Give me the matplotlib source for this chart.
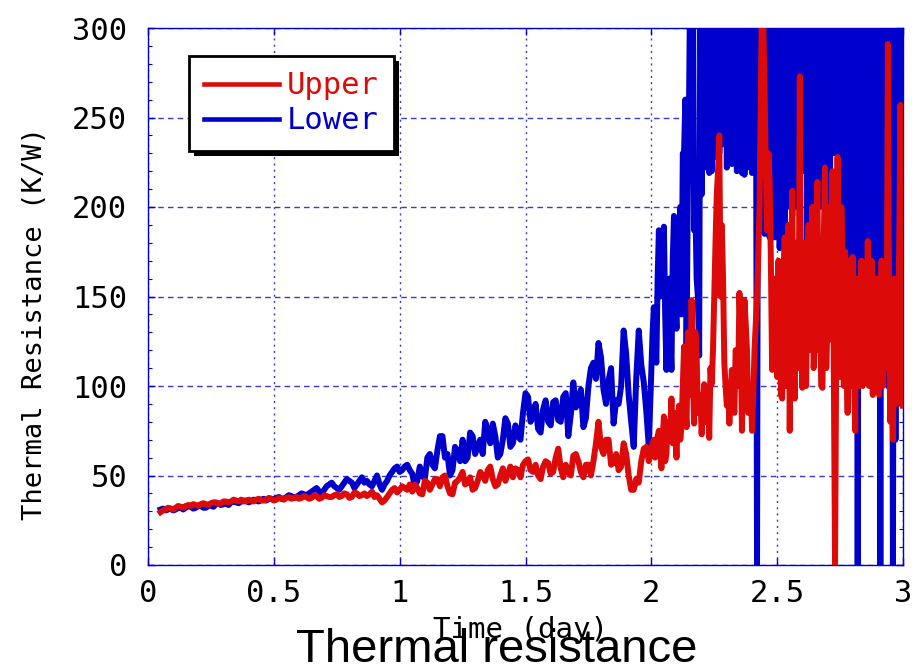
import numpy as np
import matplotlib
matplotlib.use("Agg")
import matplotlib.pyplot as plt
from matplotlib.patches import Rectangle
from matplotlib.lines import Line2D

# ---------------- data ----------------
# early part: 0.05 .. 1.99 day; "main" samples every 0.02 day, "between" samples halfway
upper_early_main = [29.5, 31, 31.5, 32, 32.5, 33, 33, 33.5, 34, 34, 34.5, 35, 34.5, 35.5, 35.5, 36,
                    36.5, 35.5, 36, 36.5, 36, 36.5, 37, 36.5, 37, 37.5, 37, 38, 37.5, 38, 37.5, 38.5,
                    37.5, 38.5, 38, 39.5, 38.5, 39.5, 38, 40, 39, 38.5, 41, 39, 35, 38, 42, 40.5,
                    44, 42, 41, 43, 39.5, 46, 45, 48, 49, 44, 39.5, 47, 52, 46, 42, 47,
                    50, 53, 48, 45, 54, 51, 49, 53, 56, 59, 52, 50, 55, 57, 52, 65,
                    49, 52, 61, 58, 49, 56, 58, 80, 62, 70, 57, 53, 68, 50, 42, 46,
                    65, 58]
upper_early_between = [30.5, 32, 31, 33, 32, 33.5, 34, 33, 34.5, 33.5,
                       35, 34, 35.5, 35, 36.5, 35.5, 35.5, 36.5, 35.5, 37,
                       36, 37.5, 36, 37.5, 36.5, 38, 37.5, 37, 38.5, 37,
                       39, 37, 39, 38, 39, 38, 40, 37.5, 40.5, 38.5,
                       40, 39.5, 38, 37, 36, 40, 43, 42, 43, 45,
                       45, 40, 47, 42, 48, 44, 50, 40, 46, 49,
                       45, 49, 43, 52, 47, 55, 44, 50, 47, 55,
                       54, 49, 58, 53, 56, 48, 58, 51, 60, 54,
                       56, 50, 62, 52, 56, 50, 68, 66, 70, 56,
                       62, 55, 62, 42, 48, 58, 66]
lower_early_main = [31, 30.5, 31.5, 31, 32, 32, 32.5, 32, 33, 32, 33.5, 34, 33.5, 34.5, 35, 35,
                    35.5, 36, 35.5, 36, 36.5, 36, 37, 37.5, 37, 38, 38.5, 38, 40, 39, 41, 43,
                    40, 44, 46, 43, 44, 48, 46, 45, 49, 47, 44, 50, 42, 47, 52, 55,
                    53, 56, 51, 47, 50, 60, 56, 64, 72, 62, 53, 63, 70, 60, 72, 66,
                    62, 75, 79, 60, 70, 79, 68, 72, 85, 94, 83, 76, 87, 80, 91, 81,
                    94, 72, 102, 92, 77, 100, 113, 124, 98, 103, 79, 90, 131, 95, 66, 131,
                    102, 66]
lower_early_between = [31.5, 31, 30.5, 32, 31, 33, 31.5, 33, 32, 33,
                       32.5, 34.5, 34, 33.5, 35.5, 34.5, 36, 35, 36.5, 35.5,
                       37, 37, 36.5, 38, 37, 39, 37.5, 39, 39.5, 40,
                       42, 41, 42, 45, 44, 42, 46, 47, 43, 47,
                       46, 45, 47, 45, 45, 50, 54, 52, 55, 53,
                       44, 55, 48, 62, 54, 72, 60, 50, 66, 58,
                       58, 74, 62, 70, 80, 68, 72, 62, 82, 66,
                       78, 70, 96, 80, 90, 74, 92, 78, 92, 80,
                       96, 84, 88, 98, 82, 110, 104, 116, 90, 110,
                       92, 100, 118, 80, 104, 112, 86]
# late part: 2.00 .. 3.00 day; "main" every 0.01 day, "between" halfway (values >300 run off the top)
upper_late_main = [64, 70, 66, 75, 54, 83, 62, 70, 93, 85, 60, 89, 78, 122, 77, 109,
                   148, 79, 117, 89, 73, 101, 85, 71, 101, 150, 207, 240, 190, 113, 89, 79,
                   109, 85, 117, 152, 75, 148, 120, 95, 75, 120, 148, 200, 320, 265, 187, 214,
                   109, 160, 105, 140, 93, 183, 110, 75, 209, 93, 150, 273, 99, 130, 158, 120,
                   200, 125, 214, 150, 99, 222, 140, 126, 220, 0, 228, 105, 160, 175, 85, 130,
                   172, 75, 120, 136, 100, 154, 181, 120, 95, 156, 111, 140, 100, 120, 291, 80,
                   70, 110, 128, 257, 89]
upper_late_between = [68, 60, 72, 64, 70, 58, 80, 76, 68, 74,
                      82, 70, 100, 90, 130, 95, 105, 130, 85, 95,
                      88, 80, 95, 110, 120, 180, 220, 150, 160, 100,
                      100, 95, 92, 120, 100, 130, 110, 135, 85, 100,
                      95, 135, 175, 260, 300, 220, 230, 170, 130, 140,
                      170, 95, 160, 100, 190, 160, 110, 180, 110, 150,
                      180, 100, 190, 170, 110, 190, 120, 100, 180, 110,
                      200, 170, 110, 130, 120, 200, 100, 120, 170, 100,
                      110, 160, 100, 170, 130, 110, 100, 170, 130, 160,
                      95, 170, 140, 110, 120, 150, 160, 90, 180, 110]
lower_late_main = [109, 144, 113, 187, 160, 189, 109, 160, 109, 195,
                   132, 179, 140, 230, 118, 261, 320, 187, 160, 117,
                   207, 228, 222, 219, 220, 228, 228, 230, 241, 235,
                   222, 230, 224, 235, 220, 225, 219, 218, 222, 240,
                   219, 230, 0, 244, 200, 185, 240, 183, 195, 183,
                   195, 177, 190, 177, 228, 200, 195, 210, 200, 195,
                   220, 240, 154, 160, 203, 210, 203, 200, 203, 210,
                   205, 203, 246, 230, 246, 180, 200, 181, 154, 160,
                   154, 160, 0, 150, 154, 148, 150, 148, 171, 128,
                   171, 0, 150, 120, 100, 95, 0, 70, 90, 110,
                   120]
lower_late_between = [130, 120, 160, 150, 175, 140, 135, 130, 170, 150,
                      180, 200, 230, 260, 210, 340, 340, 200, 150, 340,
                      345, 335, 350, 340, 355, 330, 345, 340, 350, 335,
                      340, 350, 345, 335, 355, 340, 330, 345, 350, 340,
                      335, 345, 350, 340, 330, 355, 345, 340, 335, 350,
                      340, 345, 330, 355, 340, 350, 335, 345, 340, 330,
                      350, 340, 345, 335, 355, 340, 330, 345, 350, 340,
                      335, 345, 350, 340, 330, 355, 345, 340, 335, 350,
                      340, 345, 330, 355, 340, 350, 335, 345, 340, 330,
                      350, 340, 345, 335, 355, 340, 330, 345, 350, 340]

x_ticks = [0, 0.5, 1, 1.5, 2, 2.5, 3]
x_ticklabels = ["0", "0.5", "1", "1.5", "2", "2.5", "3"]
y_ticks = [0, 50, 100, 150, 200, 250, 300]
series_names = ["Upper", "Lower"]


def merge(main, between):
    out = np.empty(len(main) + len(between))
    out[0::2] = main
    out[1::2] = between
    return out


upper = np.concatenate([merge(upper_early_main, upper_early_between),
                        merge(upper_late_main, upper_late_between)])
lower = np.concatenate([merge(lower_early_main, lower_early_between),
                        merge(lower_late_main, lower_late_between)])
n_early = len(upper_early_main) + len(upper_early_between)
n_late = len(upper_late_main) + len(upper_late_between)
time = np.concatenate([np.linspace(0.05, 1.99, n_early), np.linspace(2.00, 3.00, n_late)])

RED = "#dd0a0a"
BLUE = "#0000cc"
GRID = "#3a3acc"
MONO = "DejaVu Sans Mono"

# ---------------- figure ----------------
fig = plt.figure(figsize=(9.22, 6.67), dpi=100)
ax = fig.add_axes([148 / 922, 1 - 565 / 667, 755 / 922, 537 / 667])

ax.plot(time, lower, color=BLUE, lw=4.3, zorder=3)
ax.plot(time, upper, color=RED, lw=4.3, zorder=3.1)

ax.set_xlim(0, 3)
ax.set_ylim(0, 300)
ax.set_xticks(x_ticks)
ax.set_xticklabels(x_ticklabels)
ax.set_yticks(y_ticks)
ax.set_yticks(np.arange(0, 301, 10), minor=True)

for s in ax.spines.values():
    s.set_color(BLUE)
    s.set_linewidth(1.0)

ax.tick_params(which="both", direction="in", color=BLUE, top=True, right=True,
               labelcolor="black")
ax.tick_params(which="major", length=5, width=1)
ax.tick_params(which="minor", length=3, width=0.8)
ax.tick_params(axis="y", pad=15)
ax.tick_params(axis="x", pad=10)
for lab in ax.get_xticklabels() + ax.get_yticklabels():
    lab.set_fontfamily(MONO)
    lab.set_fontsize(22)

ax.xaxis.grid(True, color=GRID, lw=1, linestyle=(0, (1.5, 3)))
ax.yaxis.grid(True, color=GRID, lw=1, linestyle=(0, (4, 3)))
ax.set_axisbelow(True)

ax.set_ylabel("Thermal Resistance (K/W)", fontfamily=MONO, fontsize=19.5,
              ha="center", va="center")
ax.yaxis.set_label_coords(-0.15, 0.449)
ax.set_xlabel("Time (day)", fontfamily=MONO, fontsize=21, ha="center", va="center")
ax.xaxis.set_label_coords(0.493, -0.121)

fig.text(497 / 922, (667 - 662) / 667, "Thermal resistance", fontfamily="Liberation Sans",
         fontsize=34, ha="center", va="baseline")

handles = [Line2D([], [], color=RED, lw=3.3), Line2D([], [], color=BLUE, lw=3.3)]
leg = ax.legend(handles, series_names, loc="upper left", bbox_to_anchor=(0.054, 0.948),
                borderaxespad=0, fancybox=False, framealpha=1, edgecolor="black",
                prop={"family": MONO, "size": 22}, labelcolor=[RED, BLUE],
                handlelength=2.45, handletextpad=0.25, borderpad=0.5, labelspacing=0.2)
leg.get_frame().set_linewidth(2)
leg.set_zorder(6)

fig.canvas.draw()
bb = leg.get_frame().get_window_extent(fig.canvas.get_renderer())
shadow = Rectangle((bb.x0 + 5, bb.y0 - 5), bb.width, bb.height, transform=None,
                   facecolor="black", edgecolor="none", zorder=5.5, clip_on=False)
ax.add_artist(shadow)

fig.savefig("out.png", dpi=100)
